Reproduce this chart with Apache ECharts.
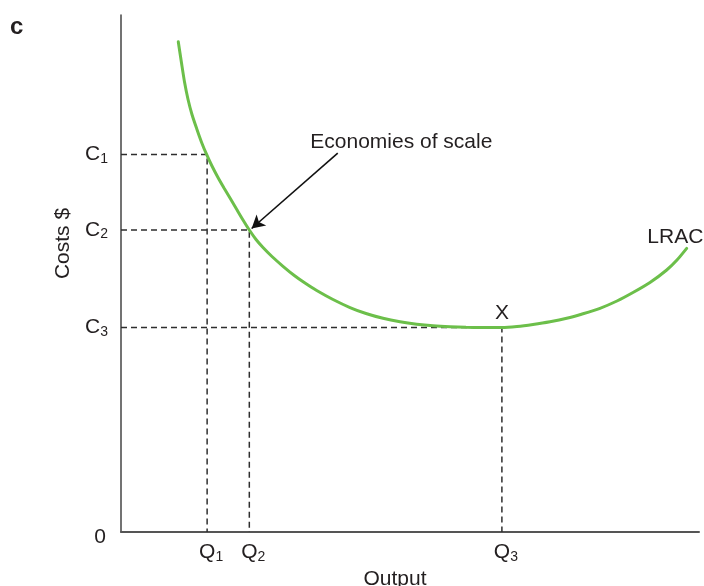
<!DOCTYPE html>
<html>
<head>
<meta charset="utf-8">
<script src="https://cdn.jsdelivr.net/npm/echarts@6/dist/echarts.min.js"></script>
<style>html,body{margin:0;padding:0;background:#fff}#c{width:704px;height:586px}</style>
</head>
<body>
<div id="c"></div>
<script>
// Long-run average cost curve (LRAC) (axis units 0-100)
const outputValues = [9.91, 10.47, 10.99, 11.59, 12.28, 13.10, 13.93, 14.83, 15.74, 16.78, 17.82, 18.86, 19.98, 21.11, 22.20, 23.36, 24.57, 26.12, 28.08, 30.10, 31.83, 33.86, 36.68, 39.62, 42.39, 45.33, 48.27, 51.16, 53.98, 56.92, 59.69, 62.63, 65.92, 68.51, 71.28, 74.22, 77.11, 79.93, 82.87, 85.81, 88.58, 91.52, 94.41, 96.19, 97.87];
const costValues   = [94.84, 90.72, 87.04, 83.70, 80.75, 78.00, 75.40, 72.98, 70.79, 68.57, 66.54, 64.60, 62.48, 60.35, 58.41, 56.58, 55.03, 53.29, 51.35, 49.52, 48.16, 46.71, 44.97, 43.42, 42.26, 41.33, 40.66, 40.19, 39.88, 39.69, 39.59, 39.56, 39.55, 39.75, 40.14, 40.66, 41.33, 42.21, 43.27, 44.68, 46.32, 48.26, 50.68, 52.61, 54.87];

// Reference levels
const qLevels = [14.9, 22.2, 65.9];
const cLevels = [73.0, 58.4, 39.55];
const cLabels = ['1', '2', '3'];

// Annotations
const arrowFrom = [37.5, 73.3];
const arrowTo = [22.6, 58.7];
const econText = 'Economies of scale';
const econAt = [48.5, 75.4];
const minText = 'X';
const minAt = [65.9, 42.3];
const curveName = 'LRAC';
const curveNameAt = [95.9, 57.1];

const FONT = '"Liberation Sans", Arial, sans-serif';
const TXT = '#231f20';
const chart = echarts.init(document.getElementById('c'), null, {renderer: 'canvas'});

const guideSeries = qLevels.map((q, i) => ({
  type: 'line',
  data: [[0, cLevels[i]], [q, cLevels[i]], [q, 0]],
  symbol: 'none',
  silent: true,
  z: 1,
  lineStyle: {color: '#2e2e2e', width: 1.5, type: [6, 4]}
}));

const option = {
  animation: false,
  backgroundColor: '#fff',
  grid: {left: 121, top: 15, width: 578, height: 517, containLabel: false, outerBoundsMode: 'none'},
  xAxis: {
    type: 'value', min: 0, max: 100,
    axisLine: {show: true, onZero: false, lineStyle: {color: '#555', width: 2}},
    axisTick: {show: false},
    splitLine: {show: false},
    axisLabel: {
      customValues: qLevels,
      margin: 9,
      hideOverlap: false,
      formatter: function (v) {
        const i = qLevels.indexOf(v);
        return i < 0 ? '' : '{q|Q}{s|' + (i + 1) + '}';
      },
      rich: {
        q: {fontFamily: FONT, fontSize: 21, color: TXT, padding: [0, 0, 0, 8]},
        s: {fontFamily: FONT, fontSize: 14, color: TXT, padding: [9, 0, 0, 0]}
      }
    },
    name: 'Output',
    nameLocation: 'middle',
    nameGap: 36,
    nameTextStyle: {fontFamily: FONT, fontSize: 21, color: TXT, padding: [0, 30, 0, 0]}
  },
  yAxis: {
    type: 'value', min: 0, max: 100,
    axisLine: {show: true, onZero: false, lineStyle: {color: '#444', width: 1.5}},
    axisTick: {show: false},
    splitLine: {show: false},
    axisLabel: {
      customValues: [0].concat(cLevels),
      margin: 13,
      hideOverlap: false,
      formatter: function (v) {
        if (v === 0) return '{z|0}';
        const i = cLevels.indexOf(v);
        return i < 0 ? '' : '{c|C}{s|' + cLabels[i] + '}';
      },
      rich: {
        c: {fontFamily: FONT, fontSize: 21, color: TXT},
        s: {fontFamily: FONT, fontSize: 14, color: TXT, padding: [9, 0, 0, 0]},
        z: {fontFamily: FONT, fontSize: 21, color: TXT, padding: [10, 2, 0, 0]}
      }
    },
    name: 'Costs $',
    nameLocation: 'middle',
    nameGap: 40,
    nameRotate: 90,
    nameTextStyle: {fontFamily: FONT, fontSize: 21, color: TXT, padding: [0, 0, 0, 60]}
  },
  graphic: [{
    type: 'text', left: 10, top: 15,
    style: {text: 'c', font: 'bold 24px ' + FONT, fill: TXT}
  }],
  series: guideSeries.concat([{
    type: 'line',
    name: curveName,
    data: outputValues.map((x, i) => [x, costValues[i]]),
    symbol: 'none',
    smooth: 0.25,
    z: 3,
    lineStyle: {color: '#6cbf4a', width: 3, cap: 'round'},
    markLine: {
      silent: true,
      symbol: ['none', 'arrow'],
      symbolSize: [11, 13],
      label: {show: false},
      lineStyle: {color: '#111', width: 1.6, type: 'solid'},
      data: [[{coord: arrowFrom}, {coord: arrowTo}]]
    },
    markPoint: {
      silent: true,
      symbol: 'circle', symbolSize: 0,
      label: {show: true, fontFamily: FONT, fontSize: 21, color: TXT, position: 'inside'},
      data: [
        {coord: econAt, value: econText, label: {formatter: econText}},
        {coord: minAt, value: minText, label: {formatter: minText}},
        {coord: curveNameAt, value: curveName, label: {formatter: curveName}}
      ]
    }
  }])
};
chart.setOption(option);
</script>
</body>
</html>
